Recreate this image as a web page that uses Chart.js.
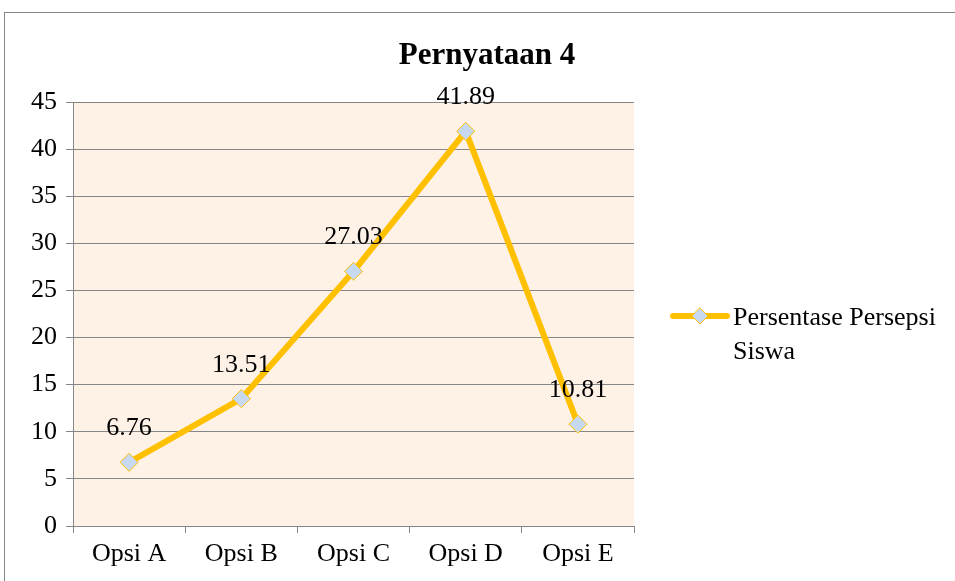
<!DOCTYPE html>
<html>
<head>
<meta charset="utf-8">
<script src="https://cdn.jsdelivr.net/npm/chart.js@4"></script>
<style>
  html, body { margin: 0; padding: 0; background: #fff; }
  #wrap { width: 955px; height: 581px; position: relative; }
</style>
</head>
<body>
<div id="wrap"><canvas id="lineChart" width="955" height="581"></canvas></div>
<script>
const categories = ['Opsi A', 'Opsi B', 'Opsi C', 'Opsi D', 'Opsi E'];
const persentase = [6.76, 13.51, 27.03, 41.89, 10.81];
const seriesName = ['Persentase Persepsi', 'Siswa'];
const chartTitle = 'Pernyataan 4';

const SERIF = '"Liberation Serif", "Times New Roman", serif';
const GOLD = '#FFC000';
const GRID = '#868686';

// frame, plot background, title, labels and wrapped legend
const decorations = {
    id: 'decorations',
    beforeDraw(chart) {
        const { ctx, chartArea: a } = chart;
        ctx.save();
        ctx.fillStyle = '#FEF1E6';
        ctx.fillRect(a.left, a.top, a.right - a.left, a.bottom - a.top);
        ctx.strokeStyle = GRID;
        ctx.lineWidth = 1;
        ctx.strokeRect(4.5, 12.5, 1000, 1000);
        ctx.restore();
    },
    afterDraw(chart) {
        const { ctx } = chart;
        ctx.save();
        ctx.fillStyle = '#000';
        ctx.font = 'bold 31px ' + SERIF;
        ctx.textAlign = 'center';
        ctx.textBaseline = 'alphabetic';
        ctx.fillText(chartTitle, 487, 64);

        // data labels
        ctx.font = '26px ' + SERIF;
        const meta = chart.getDatasetMeta(0);
        meta.data.forEach((pt, i) => {
            ctx.fillText(persentase[i].toFixed(2), pt.x, pt.y - 27);
        });

        // legend
        const ly = 316;
        ctx.strokeStyle = GOLD;
        ctx.lineWidth = 6;
        ctx.lineCap = 'round';
        ctx.beginPath();
        ctx.moveTo(673, ly);
        ctx.lineTo(727, ly);
        ctx.stroke();
        ctx.beginPath();
        ctx.moveTo(700, ly - 8);
        ctx.lineTo(708, ly);
        ctx.lineTo(700, ly + 8);
        ctx.lineTo(692, ly);
        ctx.closePath();
        ctx.fillStyle = '#C6D9F1';
        ctx.fill();
        ctx.lineWidth = 1;
        ctx.stroke();
        ctx.fillStyle = '#000';
        ctx.textAlign = 'left';
        ctx.fillText(seriesName[0], 733, ly + 9);
        ctx.fillText(seriesName[1], 733, ly + 43);
        ctx.restore();
    }
};

const ctx = document.getElementById('lineChart').getContext('2d');
new Chart(ctx, {
    type: 'line',
    data: {
        labels: categories,
        datasets: [{
            label: seriesName.join(' '),
            data: persentase,
            borderColor: GOLD,
            borderWidth: 6,
            tension: 0,
            pointStyle: 'rectRot',
            pointRadius: 9,
            pointBackgroundColor: '#C6D9F1',
            pointBorderColor: GOLD,
            pointBorderWidth: 1
        }]
    },
    options: {
        responsive: false,
        animation: false,
        layout: { padding: { left: 0, top: 102, right: 321, bottom: 0 } },
        plugins: {
            legend: { display: false },
            title: { display: false },
            tooltip: { enabled: false }
        },
        scales: {
            x: {
                offset: true,
                grid: { offset: true, drawOnChartArea: false, color: GRID, tickLength: 7 },
                border: { color: GRID },
                ticks: { color: '#000', font: { family: SERIF, size: 26 }, padding: 6, maxRotation: 0 },
                afterFit(s) { s.height = 55; }
            },
            y: {
                min: 0,
                max: 45,
                grid: { color: GRID, tickLength: 7 },
                border: { color: GRID },
                ticks: { stepSize: 5, color: '#000', font: { family: SERIF, size: 26 }, padding: 9 },
                afterFit(s) { s.width = 73; }
            }
        }
    },
    plugins: [decorations]
});
</script>
</body>
</html>
